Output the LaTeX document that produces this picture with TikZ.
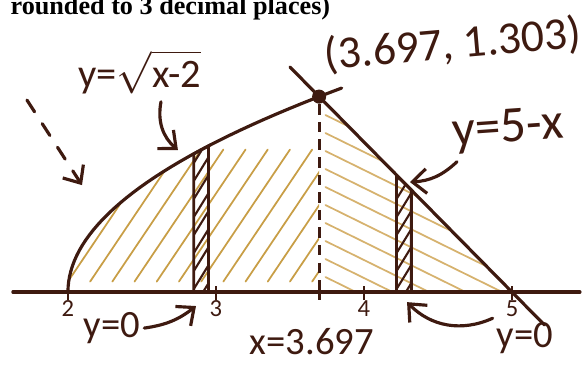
\documentclass[tikz,border=0pt]{standalone}
\usepackage{fontspec}
\setmainfont{Liberation Serif}
\newfontfamily\handfont{Carlito}
\usepackage{xcolor}
\usetikzlibrary{positioning}
\usetikzlibrary{calc}
\usetikzlibrary{arrows.meta}
\definecolor{ink}{RGB}{62,26,16}
\definecolor{hatch}{RGB}{200,158,70}
\definecolor{hatchlight}{RGB}{214,178,110}

\begin{document}
\begin{tikzpicture}[x=1.48cm,y=1.5cm,
    inkline/.style={ink,line width=0.9pt,line cap=round},
    hatchline/.style={hatch,line width=0.5pt,line cap=round},
    hand/.style={ink,inner sep=1pt},
    arr/.style={ink,line width=0.9pt,line cap=round,-{Straight Barb[length=4pt,width=7pt]}}]
\useasboundingbox (1.541,-0.487) rectangle (5.5,1.947);

\node[anchor=base west,inner sep=0pt,font=\bfseries\fontsize{7.45}{9}\selectfont] (title) at (1.608,1.847) {rounded to 3 decimal places)};

% shaded areas
\begin{scope}
    \clip (2,0) -- plot[domain=0:1.303,samples=30,variable=\t] ({2+\t*\t},\t) -- (3.697,0) -- cycle;
    \foreach \s in {1.55,1.7,...,3.9} \draw[hatchline] (\s,0.07) -- ++(0.6,0.88);
\end{scope}
\begin{scope}
    \clip (3.697,0) -- (3.697,1.303) -- (5,0) -- cycle;
    \foreach \s in {0.1,0.22,...,1.5} \draw[hatchline,hatchlight] (3.74,\s) -- ++(1.4,-0.68);
\end{scope}

% axis and graphs
\coordinate (xl) at (1.628,0);
\coordinate (xr) at (5.459,0);
\draw[inkline] (xl) -- (xr);
\foreach \t in {2,3,3.697,4,5} \draw[ink,line width=0.8pt] (\t,0.04) -- (\t,-0.05);
\foreach \t in {2,3,4,5} \node[hand,font=\handfont\fontsize{7}{8}\selectfont] (tick\t) at (\t,-0.11) {\t};

\draw[inkline] plot[domain=0:1.36,samples=40,variable=\t] ({2+\t*\t},\t);
\coordinate (lt) at (3.5,1.5);
\coordinate (lb) at (5.22,-0.22);
\draw[inkline] (lt) -- (lb);

\node[circle,fill=ink,inner sep=0pt,minimum size=4pt] (P) at (3.697,1.303) {};
\coordinate (xfoot) at (3.697,0);
\draw[ink,line width=0.8pt,dash pattern=on 3pt off 2pt] (P) -- (xfoot);

% strips
\draw[inkline,line width=0.8pt] (2.85,0) -- (2.85,{sqrt(0.85)}) -- (2.95,{sqrt(0.95)}) -- (2.95,0);
\begin{scope}
    \clip (2.85,0) -- (2.85,{sqrt(0.85)}) -- (2.95,{sqrt(0.95)}) -- (2.95,0) -- cycle;
    \foreach \s in {-0.1,0.02,...,1} \draw[ink,line width=0.6pt] (2.85,\s) -- ++(0.1,0.16);
\end{scope}
\draw[inkline,line width=0.8pt] (4.22,0) -- (4.22,0.78) -- (4.32,0.68) -- (4.32,0);
\begin{scope}
    \clip (4.22,0) -- (4.22,0.78) -- (4.32,0.68) -- (4.32,0) -- cycle;
    \foreach \s in {-0.1,0.02,...,0.8} \draw[ink,line width=0.6pt] (4.22,\s) -- ++(0.1,0.16);
\end{scope}

% labels
\node[hand,font=\handfont\fontsize{11.5}{13}\selectfont] (sqrtlbl) at (2.486,1.467) {y=$\sqrt{\hbox{x-2}}$};
\node[hand,rotate=5,font=\handfont\fontsize{13}{15}\selectfont] (Plbl) at (4.601,1.647) {(3.697, 1.303)};
\node[hand,rotate=4,font=\handfont\fontsize{14.5}{17}\selectfont] (linelbl) at (4.973,1.08) {y=5-x};
\node[hand,font=\handfont\fontsize{11}{13}\selectfont] (zerol) at (2.297,-0.24) {y=0};
\node[hand,font=\handfont\fontsize{11}{13}\selectfont] (xlbl) at (3.649,-0.333) {x=3.697};
\node[hand,font=\handfont\fontsize{11}{13}\selectfont] (zeror) at (5.088,-0.307) {y=0};

% arrows
\coordinate (c1) at (2.743,0.947);
\coordinate (c2) at (4.311,0.733);
\coordinate (s1) at (2.865,-0.093);
\coordinate (s2) at (4.291,-0.067);
\coordinate (dstart) at (1.723,1.28);
\coordinate (dend) at (2.095,0.713);
\draw[arr] ([xshift=6pt,yshift=-1pt]sqrtlbl.south) to[bend right=30] (c1);
\draw[arr] ([xshift=-15pt,yshift=-2pt]linelbl.south) to[bend left=20] (c2);
\draw[arr] (zerol.east) to[bend right=15] (s1);
\draw[arr] (zeror.north west) to[bend left=35] (s2);
\draw[arr,dash pattern=on 4pt off 4pt] (dstart) -- (dend);

\end{tikzpicture}
\end{document}
